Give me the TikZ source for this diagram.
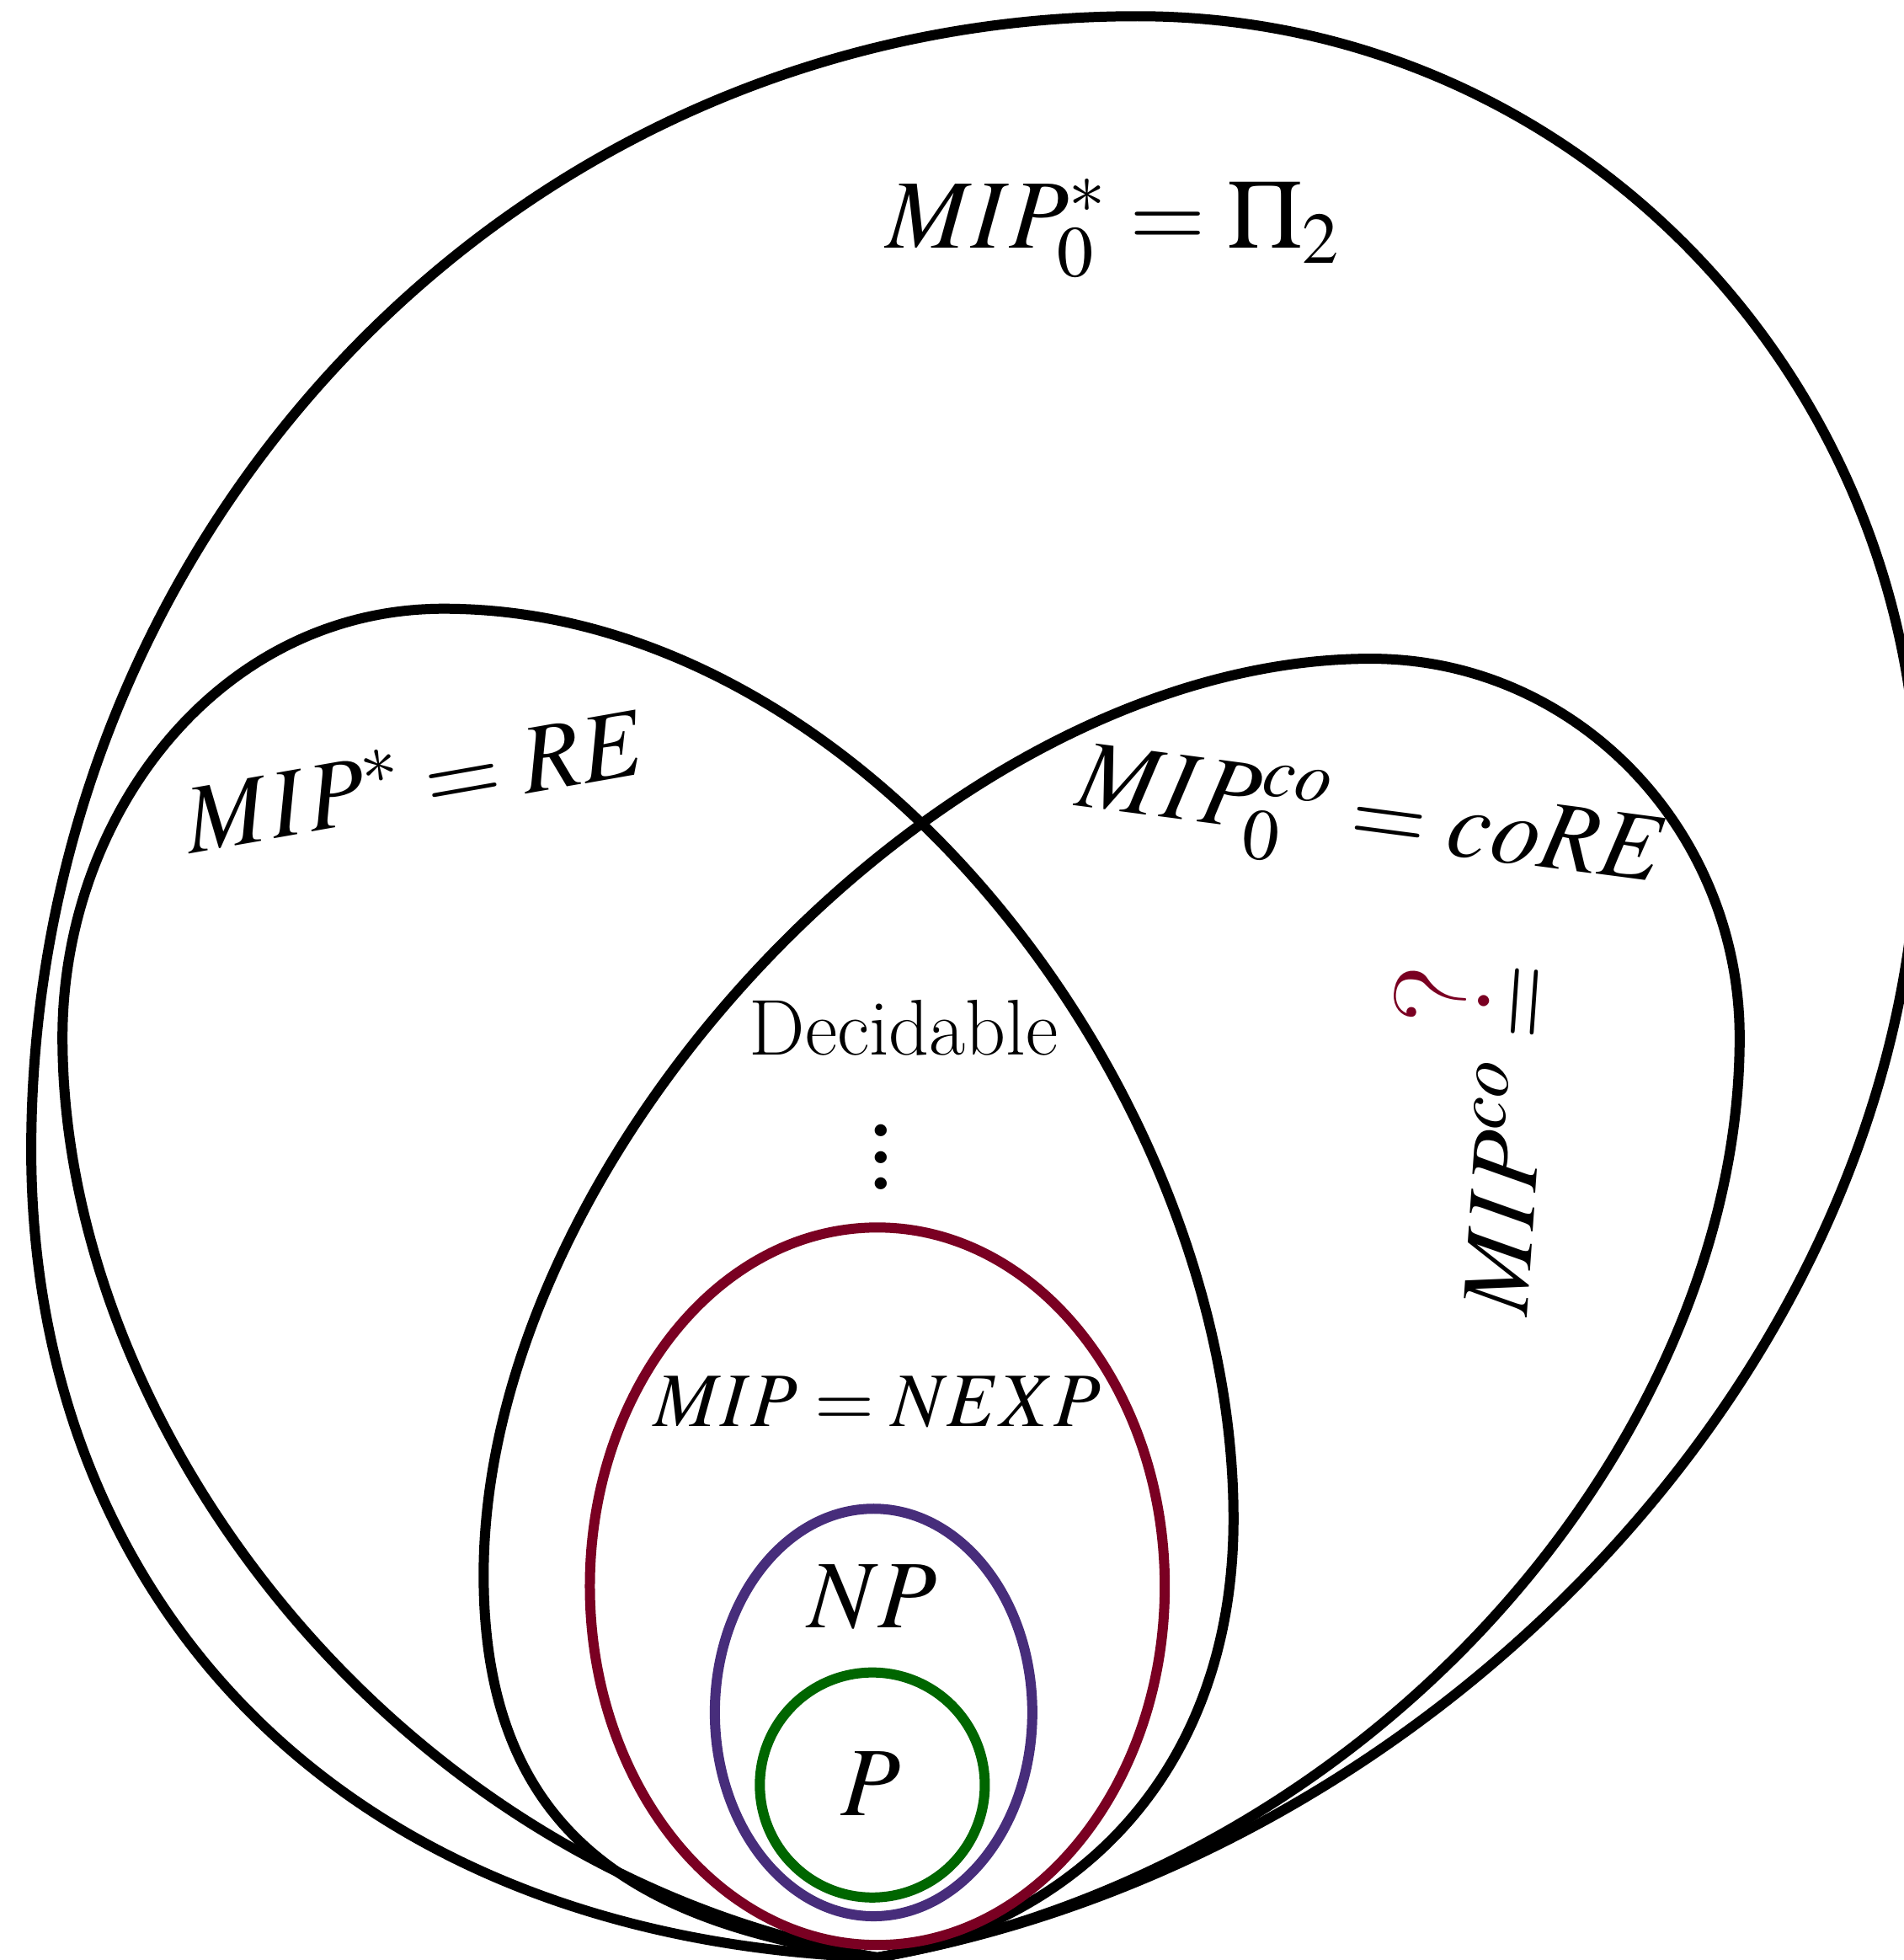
\documentclass[tikz,border=0pt]{standalone}
\usepackage{amsmath}
\usepackage{mathptmx}
\usepackage{xcolor}
\usepackage{tikz}
\usetikzlibrary{calc}

\definecolor{nexpred}{RGB}{122,0,34}
\definecolor{nppurple}{RGB}{71,45,123}
\definecolor{pgreen}{RGB}{0,102,0}

\begin{document}
\begin{tikzpicture}[
x=1cm,
y=1cm,
every node/.style={inner sep=0pt},
classline/.style={line width=2.3pt,line cap=round,line join=round},
biglbl/.style={font=\fontsize{22.3}{27}\selectfont},
midlbl/.style={font=\fontsize{17.5}{21}\selectfont}
]
\useasboundingbox (0,0) rectangle (15.23,15.68);
\coordinate (base) at (7.02,0.02);

% the three black classes, all from the common base point
\draw[classline] (base) to[out=178,in=-90,out distance=4.4cm,in distance=3.5cm] (0.25,6.48)
  to[out=90,in=180] (9.10,15.55) to[out=0,in=90] (15.35,9.18)
  to[out=-90,in=10,out distance=4.28cm,in distance=4.65cm] (base);
\draw[classline] (base) to[out=170,in=-90,out distance=3.96cm,in distance=3.09cm] (0.50,7.38)
  to[out=90,in=180] (3.55,10.81) to[out=0,in=90,looseness=0.9] (9.87,3.53)
  to[out=-90,in=10,out distance=2.0cm,in distance=1.64cm] (base);
\draw[classline] (base) to[out=172,in=-90,out distance=1.87cm,in distance=2.13cm] (3.87,3.08)
  to[out=90,in=180,looseness=0.85] (10.97,10.41) to[out=0,in=90] (13.92,7.38)
  to[out=-90,in=10,out distance=3.12cm,in distance=4.15cm] (base);

% nested decidable classes
\draw[classline,draw=nexpred] (7.02,2.99) ellipse [x radius=2.30,y radius=2.87];
\draw[classline,draw=nppurple] (6.99,1.98) ellipse [x radius=1.27,y radius=1.63];
\draw[classline,draw=pgreen] (6.98,1.40) circle [radius=0.90];

\node[biglbl] (pitwo) at (8.91,13.85) {$MIP^{*}_{0}=\Pi_{2}$};
\node[biglbl,rotate=10] (re) at (3.32,9.45) {$MIP^{*}=RE$};
\node[biglbl,rotate=-7.5] (core) at (10.97,9.07) {$MIP^{co}_{0}=coRE$};
\node[biglbl,rotate=86] (mipco) at (11.66,6.60)
  {$MIP^{co}\mathrel{\overset{\mbox{\fontsize{31}{34}\selectfont\textcolor{nexpred}{?}}\rule[-3pt]{0pt}{0pt}}{=}}$};
\node[font=\fontsize{18}{21}\selectfont] (dec) at (7.23,7.46) {Decidable};
\node[biglbl,scale=1.5] (dots) at (7.05,6.58) {$\vdots$};
\node[midlbl] (nexp) at (7.02,4.46) {$MIP=NEXP$};
\node[font=\fontsize{22}{26}\selectfont] (np) at (6.98,2.90) {$NP$};
\node[biglbl] (p) at (6.97,1.41) {$P$};
\end{tikzpicture}
\end{document}
